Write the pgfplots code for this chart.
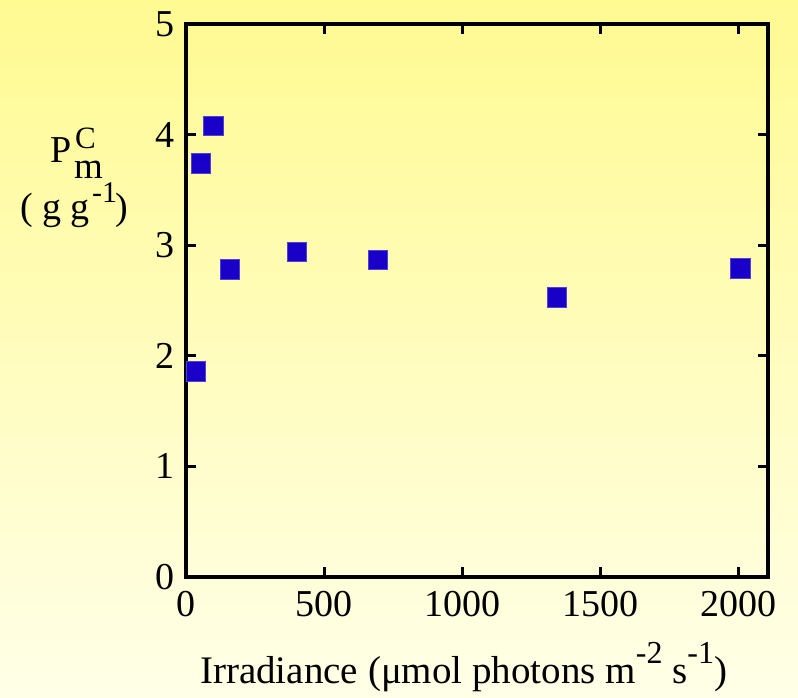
\documentclass[border=0pt]{standalone}
\usepackage{pgfplots}
\pgfplotsset{compat=1.18}
\usepackage{fontspec}
\setmainfont{Liberation Serif}
\definecolor{bgtop}{RGB}{255,250,145}
\definecolor{bgbot}{RGB}{255,255,232}
\definecolor{mk}{RGB}{24,0,200}
\begin{document}
\begin{tikzpicture}[x=1pt,y=1pt]
\useasboundingbox (0,0) rectangle (798,697);
\shade[top color=bgtop,bottom color=bgbot] (0,0) rectangle (798,697);
\begin{axis}[at={(186pt,120pt)}, anchor=south west, scale only axis,
  width=582pt, height=553pt,
  xmin=0, xmax=2105, ymin=0, ymax=5,
  xtick={0,500,1000,1500,2000}, ytick={0,1,2,3,4,5},
  tick align=inside, major tick length=10pt,
  axis line style={line width=3.5pt},
  every tick/.style={black, line width=3pt},
  tick label style={font=\fontsize{38}{42}\selectfont, inner sep=0pt},
  xticklabel style={anchor=north, yshift=-14pt},
  yticklabel style={anchor=east, xshift=-11pt},
  /pgf/number format/assume math mode=true,
  /pgf/number format/set thousands separator={},
  clip=false]
\addplot[only marks, mark=square*, mark size=9.75pt,
  mark options={fill=mk, draw=mk!75!white, line width=0.6pt}]
  coordinates {(36,1.86) (54,3.74) (98,4.08) (159,2.78) (401,2.94) (694,2.87) (1342,2.53) (2004,2.79)};
\end{axis}
\begin{scope}[every node/.style={inner sep=0pt, anchor=base west}]
\node[font=\fontsize{38}{42}\selectfont] at (50,534) {P};
\node[font=\fontsize{31}{34}\selectfont] at (75,548) {C};
\node[font=\fontsize{37}{40}\selectfont] at (74,518) {m};
\node[font=\fontsize{38}{42}\selectfont] at (20,477) {( g g};
\node[font=\fontsize{30}{34}\selectfont] at (92,494) {-1};
\node[font=\fontsize{38}{42}\selectfont] at (115,477) {)};
\node[font=\fontsize{39}{42}\selectfont] at (200,14) {Irradiance (μmol photons m\raisebox{20pt}{\fontsize{32}{34}\selectfont -2} s\raisebox{20pt}{\fontsize{32}{34}\selectfont -1})};
\end{scope}
\end{tikzpicture}
\end{document}
